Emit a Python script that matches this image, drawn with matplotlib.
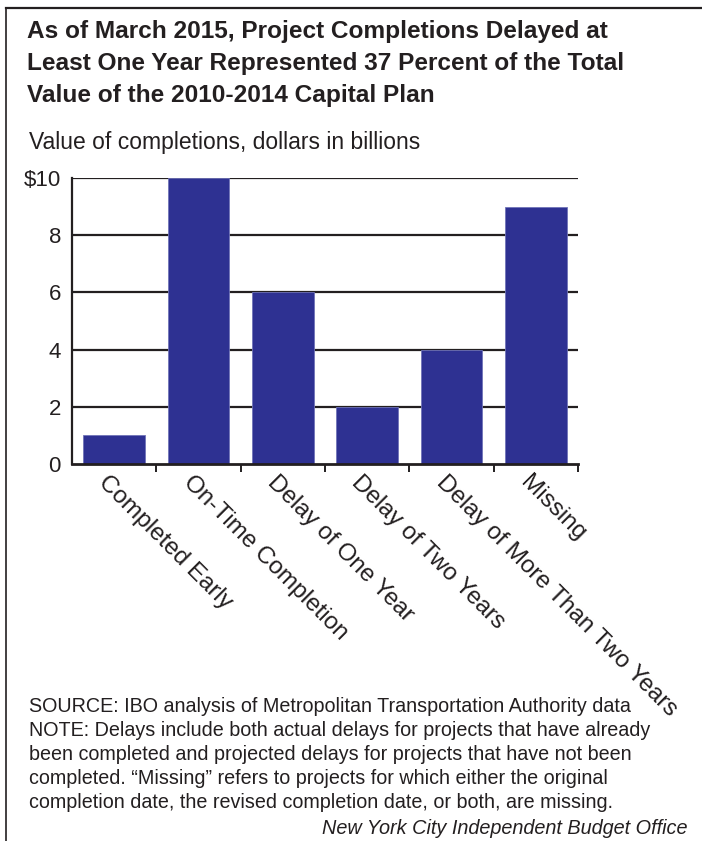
import matplotlib
matplotlib.use("Agg")
import matplotlib.pyplot as plt
from matplotlib.lines import Line2D

categories = ["Completed Early", "On-Time Completion", "Delay of One Year",
              "Delay of Two Years", "Delay of More Than Two Years", "Missing"]
values = [1, 10, 6, 2, 4, 9]
yticks = [0, 2, 4, 6, 8, 10]
ytick_labels = ["0", "2", "4", "6", "8", "$10"]

title = ("As of March 2015, Project Completions Delayed at\n"
         "Least One Year Represented 37 Percent of the Total\n"
         "Value of the 2010-2014 Capital Plan")
units = "Value of completions, dollars in billions"
notes = [
    "SOURCE: IBO analysis of Metropolitan Transportation Authority data",
    "NOTE: Delays include both actual delays for projects that have already",
    "been completed and projected delays for projects that have not been",
    "completed. \u201cMissing\u201d refers to projects for which either the original",
    "completion date, the revised completion date, or both, are missing.",
]
credit = "New York City Independent Budget Office"

ink = "#231f20"
bar_color = "#2e3192"
sans = ["Liberation Sans", "DejaVu Sans"]

W, H = 702, 841
fig = plt.figure(figsize=(W / 100, H / 100), dpi=100)

# frame: top rule and left rule only
fig.add_artist(Line2D([6 / W, 1], [1 - 8 / H, 1 - 8 / H], color=ink, lw=1.6,
                      transform=fig.transFigure))
fig.add_artist(Line2D([6 / W, 6 / W], [0, 1 - 8 / H], color=ink, lw=1.2,
                      transform=fig.transFigure))

fig.text(27 / W, 1 - 20 / H, title, ha="left", va="top", fontsize=17.6,
         fontweight="bold", family=sans, color=ink, linespacing=1.5)
fig.text(29 / W, 1 - 143 / H, units, ha="left", va="center", fontsize=16.5,
         family=sans, color=ink)

ax = fig.add_axes([72 / W, 1 - 464 / H, 506 / W, 286 / H])
x = list(range(len(categories)))
ax.bar(x, values, width=0.735, color=bar_color, edgecolor="#7074b8",
       linewidth=0.6, zorder=3)
ax.set_xlim(-0.5, len(categories) - 0.5)
ax.set_ylim(0, 10)

ax.set_yticks(yticks)
ax.set_yticklabels(ytick_labels, family=sans, fontsize=16, color=ink)
ax.tick_params(axis="y", length=0, pad=8)
for y in yticks[1:]:
    ax.axhline(y, color=ink, lw=1.6, zorder=1)

ax.set_xticks(x)
ax.set_xticklabels([])
ax.tick_params(axis="x", which="major", length=0)
ax.set_xticks([i + 0.5 for i in x], minor=True)
ax.tick_params(axis="x", which="minor", direction="out", length=5.5,
               width=1.4, color=ink)

for sp in ["top", "right"]:
    ax.spines[sp].set_visible(False)
ax.spines["left"].set_color(ink)
ax.spines["left"].set_linewidth(1.6)
ax.spines["bottom"].set_color(ink)
ax.spines["bottom"].set_linewidth(2)
ax.spines["bottom"].set_zorder(4)

for i, name in enumerate(categories):
    ax.annotate(name, xy=(i, 0), xycoords="data", xytext=(-3, -5),
                textcoords="offset points", rotation=-45,
                rotation_mode="anchor", ha="left", va="top",
                fontsize=17.5, family=sans, color=ink)

for k, line in enumerate(notes):
    fig.text(29 / W, 1 - (706 + 24 * k) / H, line, ha="left", va="center",
             fontsize=14.2, family=sans, color=ink)
fig.text(688 / W, 1 - 829 / H, credit, ha="right", va="center",
         fontsize=14.3, style="italic", family=sans, color=ink)

fig.savefig("out.png", dpi=100)
